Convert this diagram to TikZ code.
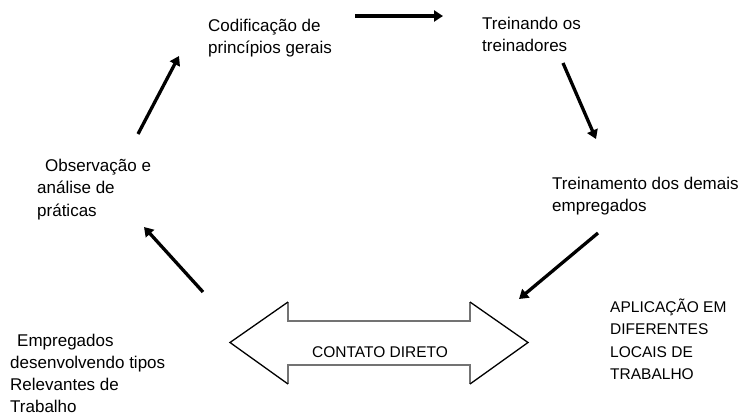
\documentclass[tikz,border=0pt]{standalone}
\usepackage{fontspec}
\setmainfont{Liberation Sans}
\usetikzlibrary{arrows.meta}
\newcommand{\fstrut}{\rule{0pt}{15pt}}
\begin{document}
\begin{tikzpicture}[x=1pt,y=-1pt,
  lbl/.style={anchor=north west, inner sep=0pt, align=left, font=\fontsize{17}{22.5}\selectfont},
  caplbl/.style={anchor=north west, inner sep=0pt, align=left, font=\fontsize{15.5}{22.5}\selectfont},
  flow/.style={line width=3.3pt, -{Triangle[length=9pt,width=11pt]}},
  headedge/.style={black, line width=1.3pt, line join=miter},
  shaftedge/.style={black!55, line width=1.6pt, line join=miter}]
\useasboundingbox (0,0) rectangle (744,416);

% texts
\node[lbl] (cod) at (208,16) {\fstrut Codificação de\\princípios gerais};
\node[lbl] (trei) at (482,14) {\fstrut Treinando os\\treinadores};
\node[lbl] (dem) at (552,174) {\fstrut Treinamento dos demais\\empregados};
\node[lbl] (obs) at (37,156) {\fstrut\hspace*{8pt}Observação e\\análise de\\práticas};
\node[lbl, font=\fontsize{17}{22}\selectfont] (emp) at (10,331) {\fstrut\hspace*{7pt}Empregados\\desenvolvendo tipos\\Relevantes de\\Trabalho};
\node[caplbl] (apl) at (610,297) {\fstrut APLICAÇÃO EM\\DIFERENTES\\LOCAIS DE\\TRABALHO};

% double arrow
\fill[white] (230,342.5) -- (288,302) -- (288,321) -- (470,321) -- (470,302) -- (528,342.5)
  -- (470,384) -- (470,365) -- (288,365) -- (288,384) -- cycle;
\draw[shaftedge] (288,302) -- (288,321) -- (470,321) -- (470,302);
\draw[shaftedge] (288,384) -- (288,365) -- (470,365) -- (470,384);
\draw[headedge] (288,302) -- (230,342.5) -- (288,384);
\draw[headedge] (470,302) -- (528,342.5) -- (470,384);
\node[anchor=base, inner sep=0pt, font=\fontsize{15.5}{18}\selectfont] (cont) at (380,357) {CONTATO DIRETO};

% arrow end points
\coordinate (a1s) at (355,16);  \coordinate (a1e) at (443,16);
\coordinate (a2s) at (563,63);  \coordinate (a2e) at (596,139);
\coordinate (a3s) at (598,233); \coordinate (a3e) at (519,299);
\coordinate (a4s) at (203,292); \coordinate (a4e) at (144,227);
\coordinate (a5s) at (138,134); \coordinate (a5e) at (179,56);

\draw[flow] (a1s) -- (a1e);
\draw[flow] (a2s) -- (a2e);
\draw[flow] (a3s) -- (a3e);
\draw[flow] (a4s) -- (a4e);
\draw[flow] (a5s) -- (a5e);
\end{tikzpicture}
\end{document}
